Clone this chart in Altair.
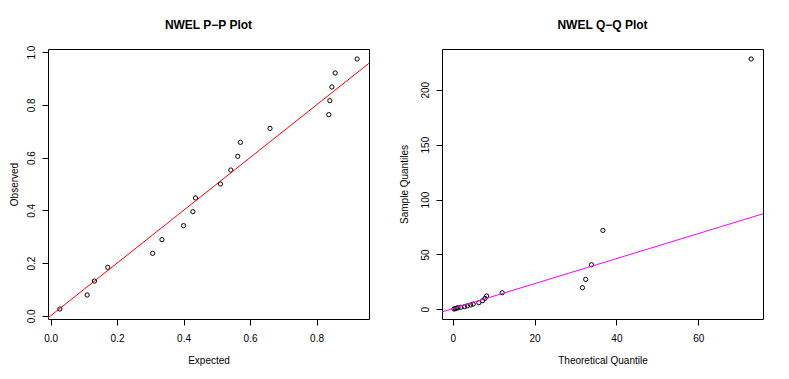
import altair as alt
import pandas as pd

# ---- P-P plot data ----
pp_expected = [0.028, 0.110, 0.132, 0.172, 0.307, 0.335, 0.400, 0.428, 0.436, 0.511,
               0.542, 0.563, 0.571, 0.660, 0.837, 0.840, 0.846, 0.856, 0.922]
pp_observed = [0.026, 0.079, 0.132, 0.184, 0.237, 0.289, 0.342, 0.395, 0.447, 0.500,
               0.553, 0.605, 0.658, 0.711, 0.763, 0.816, 0.868, 0.921, 0.974]
pp_line_intercept = 0.0
pp_line_slope = 1.0

# ---- Q-Q plot data ----
qq_theoretical = [0.3, 0.6, 0.9, 1.3, 2.0, 2.9, 3.6, 4.4, 5.0, 6.4,
                  7.3, 7.9, 8.3, 12.1, 31.7, 32.5, 33.9, 36.7, 72.9]
qq_sample = [0.3, 0.6, 1.0, 1.4, 1.9, 2.5, 3.2, 4.0, 4.8, 6.0,
             7.8, 10.0, 12.2, 15.1, 19.7, 27.3, 40.6, 71.9, 228.0]
qq_line_intercept = 0.6
qq_line_slope = 1.14

pp_xticks = [0.0, 0.2, 0.4, 0.6, 0.8]
pp_yticks = [0.0, 0.2, 0.4, 0.6, 0.8, 1.0]
qq_xticks = [0, 20, 40, 60]
qq_yticks = [0, 50, 100, 150, 200]

titles = ["NWEL P\u2212P Plot", "NWEL Q\u2212Q Plot"]


def r_domain(vals):
    lo, hi = min(vals), max(vals)
    pad = (hi - lo) * 0.04
    return [lo - pad, hi + pad]


def clip_line(a, b, xdom, ydom):
    x0 = max(xdom[0], (ydom[0] - a) / b)
    x1 = min(xdom[1], (ydom[1] - a) / b)
    return pd.DataFrame({"x": [x0, x1], "y": [a + b * x0, a + b * x1]})


FONT = "Liberation Sans"
W, H = 321, 270


def panel(xv, yv, a, b, color, title, xtitle, ytitle, xticks, yticks, fmt, ytitle_pad):
    xdom = r_domain(xv)
    ydom = r_domain(yv)
    pts = pd.DataFrame({"x": xv, "y": yv})
    line_df = clip_line(a, b, xdom, ydom)
    xs = alt.Scale(domain=xdom, nice=False, zero=False)
    ys = alt.Scale(domain=ydom, nice=False, zero=False)
    xax = alt.Axis(title=xtitle, values=xticks, format=fmt, labelPadding=8,
                   titlePadding=12)
    yax = alt.Axis(title=ytitle, values=yticks, format=fmt, labelAngle=270,
                   labelAlign="center", labelBaseline="alphabetic",
                   labelPadding=8, titlePadding=ytitle_pad)
    p = alt.Chart(pts).mark_point(filled=False, color="black", size=18,
                                  strokeWidth=1, opacity=1).encode(
        x=alt.X("x:Q", scale=xs, axis=xax),
        y=alt.Y("y:Q", scale=ys, axis=yax),
    )
    l = alt.Chart(line_df).mark_line(color=color, strokeWidth=1, clip=True).encode(
        x=alt.X("x:Q", scale=xs),
        y=alt.Y("y:Q", scale=ys),
    )
    t = alt.Chart(pd.DataFrame({"t": [title]})).mark_text(
        font=FONT, fontSize=12, fontWeight="bold", color="black",
        align="center", baseline="alphabetic",
    ).encode(text="t:N", x=alt.value(W / 2), y=alt.value(-20))
    return alt.layer(p, l, t).properties(width=W, height=H)


left = panel(pp_expected, pp_observed, pp_line_intercept, pp_line_slope, "#FF0000",
             titles[0], "Expected", "Observed", pp_xticks, pp_yticks, ".1f", 7)
right = panel(qq_theoretical, qq_sample, qq_line_intercept, qq_line_slope, "#FF00FF",
              titles[1], "Theoretical Quantile", "Sample Quantiles",
              qq_xticks, qq_yticks, "d", 11)

chart = alt.hconcat(left, right, spacing=28).properties(
    padding={"left": 0, "top": 10, "right": 0, "bottom": 0},
    background="white",
).configure_view(
    stroke="black", strokeWidth=1
).configure_axis(
    domain=False, grid=False, tickSize=6, tickColor="black", tickWidth=1,
    labelFont=FONT, labelFontSize=10, labelColor="black",
    titleFont=FONT, titleFontSize=10, titleFontWeight="normal", titleColor="black",
)

chart.save("out.html", embed_options={"renderer": "svg", "actions": False})
